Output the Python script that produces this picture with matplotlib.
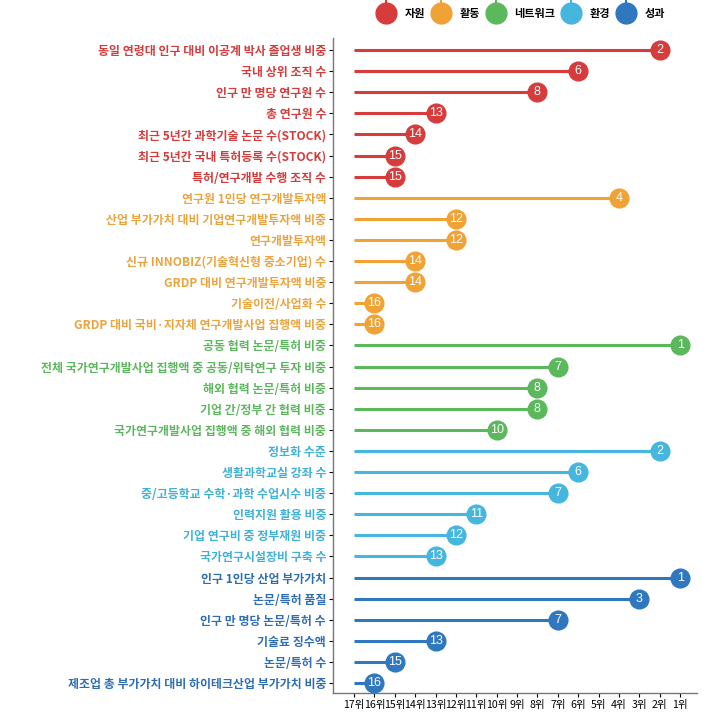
import matplotlib
matplotlib.use("Agg")
import matplotlib.pyplot as plt
from matplotlib.lines import Line2D
from matplotlib.path import Path
from matplotlib.legend_handler import HandlerTuple

plt.rcParams['font.family'] = ['Noto Sans CJK KR', 'DejaVu Sans']

groups = ["자원", "활동", "네트워크", "환경", "성과"]
group_colors = ["#d63c3c", "#f0a235", "#5bb85d", "#45b6dd", "#2f77bf"]
label_colors = ["#d43b3b", "#eba33d", "#5cb65e", "#3eb0d9", "#2d6db3"]

labels_res = ["동일 연령대 인구 대비 이공계 박사 졸업생 비중", "국내 상위 조직 수", "인구 만 명당 연구원 수",
              "총 연구원 수", "최근 5년간 과학기술 논문 수(STOCK)", "최근 5년간 국내 특허등록 수(STOCK)",
              "특허/연구개발 수행 조직 수"]
ranks_res = [2, 6, 8, 13, 14, 15, 15]
labels_act = ["연구원 1인당 연구개발투자액", "산업 부가가치 대비 기업연구개발투자액 비중", "연구개발투자액",
              "신규 INNOBIZ(기술혁신형 중소기업) 수", "GRDP 대비 연구개발투자액 비중", "기술이전/사업화 수",
              "GRDP 대비 국비·지자체 연구개발사업 집행액 비중"]
ranks_act = [4, 12, 12, 14, 14, 16, 16]
labels_net = ["공동 협력 논문/특허 비중", "전체 국가연구개발사업 집행액 중 공동/위탁연구 투자 비중",
              "해외 협력 논문/특허 비중", "기업 간/정부 간 협력 비중", "국가연구개발사업 집행액 중 해외 협력 비중"]
ranks_net = [1, 7, 8, 8, 10]
labels_env = ["정보화 수준", "생활과학교실 강좌 수", "중/고등학교 수학·과학 수업시수 비중", "인력지원 활용 비중",
              "기업 연구비 중 정부재원 비중", "국가연구시설장비 구축 수"]
ranks_env = [2, 6, 7, 11, 12, 13]
labels_out = ["인구 1인당 산업 부가가치", "논문/특허 품질", "인구 만 명당 논문/특허 수", "기술료 징수액",
              "논문/특허 수", "제조업 총 부가가치 대비 하이테크산업 부가가치 비중"]
ranks_out = [1, 3, 7, 13, 15, 16]

rank_ticks = list(range(17, 0, -1))
rank_tick_labels = [f"{r}위" for r in rank_ticks]

all_labels = [labels_res, labels_act, labels_net, labels_env, labels_out]
all_ranks = [ranks_res, ranks_act, ranks_net, ranks_env, ranks_out]

fig = plt.figure(figsize=(7.14, 7.16), dpi=100)
ax = fig.add_axes([333/714, 23/716, (697-333)/714, (693-38)/716])

ytick_labels = []
ytick_colors = []
row = 0
for gi, (labs, rks) in enumerate(zip(all_labels, all_ranks)):
    c = group_colors[gi]
    for lab, r in zip(labs, rks):
        x = 18 - r
        ax.plot([1, x], [row, row], color=c, lw=2.2, solid_capstyle='butt', zorder=2)
        ax.plot([x], [row], marker='o', ms=13.5, color=c, mec=c, zorder=3)
        ax.text(x, row, str(r), ha='center', va='center', color='white', fontsize=9,
                family=['Liberation Sans', 'DejaVu Sans'], zorder=4)
        ytick_labels.append(lab)
        ytick_colors.append(label_colors[gi])
        row += 1

n = row
ax.set_ylim(n - 1 + 0.47, -0.57)
ax.set_xlim(-0.03, 17.83)
ax.set_yticks(range(n))
ax.set_yticklabels(ytick_labels, fontsize=8.6, fontweight='bold')
for t, c in zip(ax.get_yticklabels(), ytick_colors):
    t.set_color(c)
ax.set_xticks([18 - r for r in rank_ticks])
ax.set_xticklabels(rank_tick_labels, fontsize=7.6)
ax.tick_params(axis='y', length=3, width=0.8, pad=2)
ax.tick_params(axis='x', length=3, width=0.8, pad=2)
for s in ['top', 'right']:
    ax.spines[s].set_visible(False)
for s in ['left', 'bottom']:
    ax.spines[s].set_color('#777777')
    ax.spines[s].set_linewidth(1.0)

stub = Path([(0, 0), (0, 1)], [Path.MOVETO, Path.LINETO])
handles = []
for c in group_colors:
    h1 = Line2D([], [], marker=stub, ms=22, color=c, mew=1.5, linestyle='none')
    h2 = Line2D([], [], marker='o', ms=15, color=c, linestyle='none')
    handles.append((h1, h2))
leg = fig.legend(handles, groups, ncol=5, loc='center', bbox_to_anchor=(0.73, 0.981),
                 frameon=False, handler_map={tuple: HandlerTuple(ndivide=1)},
                 prop={'size': 8, 'weight': 'bold'}, handlelength=1.6, columnspacing=0.6,
                 handletextpad=0.9)

fig.savefig("out.png", dpi=100)
